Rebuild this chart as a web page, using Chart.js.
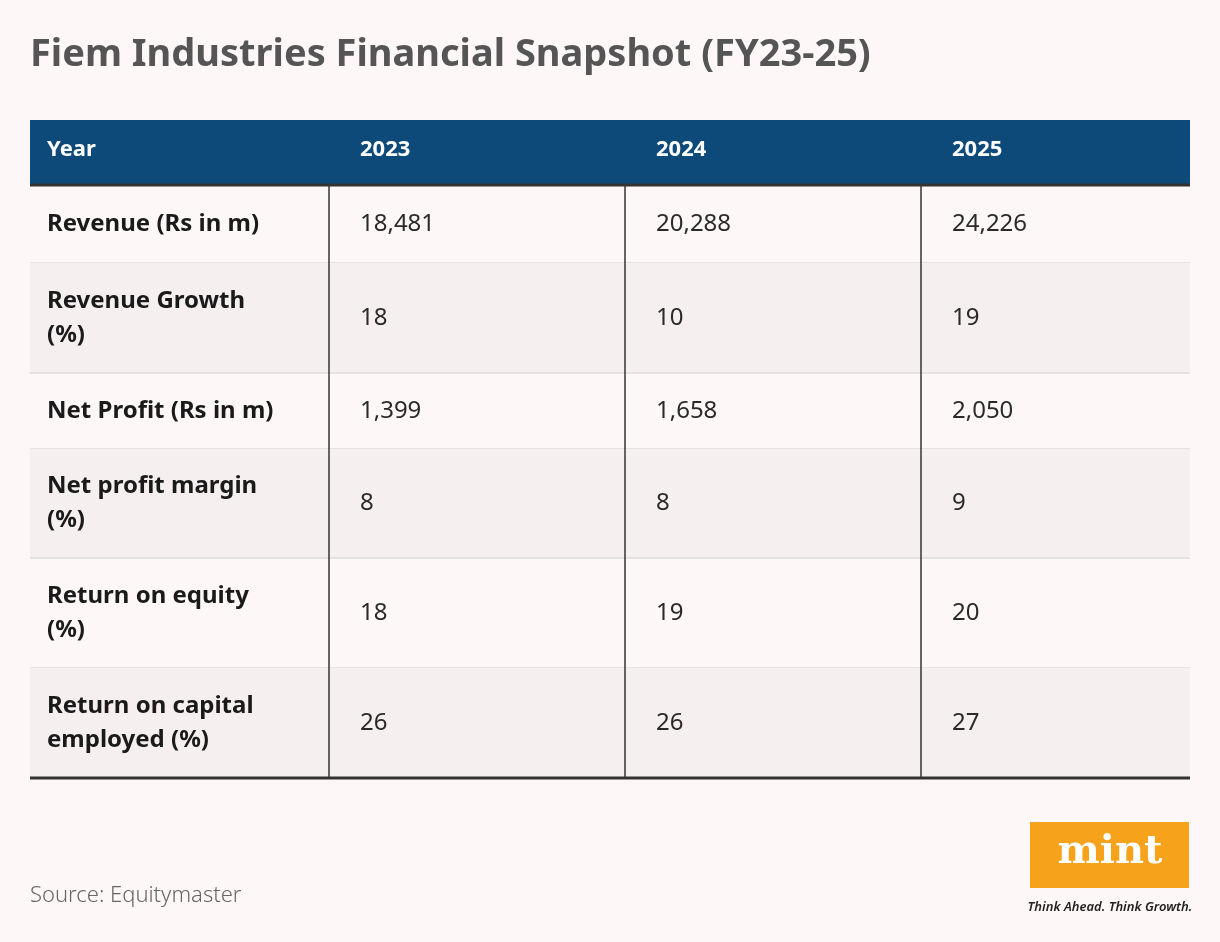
<!DOCTYPE html>
<html><head><meta charset="utf-8">
<script src="https://cdn.jsdelivr.net/npm/chart.js@4"></script>
<style>html,body{margin:0;padding:0;background:#fdf8f7;}#c{display:block;}</style>
</head><body>
<div style="width:1220px;height:942px;"><canvas id="c"></canvas></div>
<script>
const years = ["2023", "2024", "2025"];
const rowLabels = [
  ["Revenue (Rs in m)"],
  ["Revenue Growth", "(%)"],
  ["Net Profit (Rs in m)"],
  ["Net profit margin", "(%)"],
  ["Return on equity", "(%)"],
  ["Return on capital", "employed (%)"],
];
const revenue = ["18,481", "20,288", "24,226"];
const revenueGrowth = ["18", "10", "19"];
const netProfit = ["1,399", "1,658", "2,050"];
const netMargin = ["8", "8", "9"];
const roe = ["18", "19", "20"];
const roce = ["26", "26", "27"];
const rows = [revenue, revenueGrowth, netProfit, netMargin, roe, roce];

// layout (page pixels)
const colEdges = [30, 329, 625, 921, 1190];
const rowEdges = [120, 185, 263, 373, 449, 558, 668, 778];

const tablePlugin = {
  id: "table",
  beforeDraw(chart) {
    const ctx = chart.ctx, x = chart.scales.x, y = chart.scales.y;
    const X = v => x.getPixelForValue(v), Y = v => y.getPixelForValue(v);
    ctx.save();
    ctx.fillStyle = "#fdf8f7";
    ctx.fillRect(0, 0, chart.width, chart.height);
    // title
    ctx.fillStyle = "#555555";
    ctx.font = "bold 38px 'Noto Sans'";
    ctx.textBaseline = "middle";
    ctx.fillText("Fiem Industries Financial Snapshot (FY23-25)", X(30), Y(55));
    // header
    ctx.fillStyle = "#0d4a7a";
    ctx.fillRect(X(30), Y(120), X(1190) - X(30), Y(185) - Y(120));
    ctx.fillStyle = "#ffffff";
    ctx.font = "bold 22px 'Noto Sans'";
    ctx.fillText("Year", X(colEdges[0] + 17), Y(150));
    years.forEach((yr, i) => ctx.fillText(yr, X(colEdges[i + 1] + 31), Y(150)));
    // body rows
    rows.forEach((vals, r) => {
      const top = rowEdges[r + 1], bot = rowEdges[r + 2], mid = (top + bot) / 2;
      if (r % 2 === 1) {
        ctx.fillStyle = "#f5f0ef";
        ctx.fillRect(X(30), Y(top), X(1190) - X(30), Y(bot) - Y(top));
      }
      ctx.fillStyle = "#1a1a1a";
      ctx.font = "bold 24px 'Noto Sans'";
      const lines = rowLabels[r];
      lines.forEach((ln, k) => ctx.fillText(ln, X(47), Y(mid + (k - (lines.length - 1) / 2) * 34)));
      ctx.font = "24px 'Noto Sans'";
      ctx.fillStyle = "#2a2a2a";
      vals.forEach((v, i) => ctx.fillText(v, X(colEdges[i + 1] + 31), Y(mid)));
      if (r < rows.length - 1) {
        ctx.strokeStyle = "#dddddd"; ctx.lineWidth = 1.5;
        ctx.beginPath(); ctx.moveTo(X(30), Y(bot)); ctx.lineTo(X(1190), Y(bot)); ctx.stroke();
      }
    });
    // column dividers
    ctx.strokeStyle = "#333333"; ctx.lineWidth = 1.5;
    colEdges.slice(1, 4).forEach(c => {
      ctx.beginPath(); ctx.moveTo(X(c), Y(185)); ctx.lineTo(X(c), Y(778)); ctx.stroke();
    });
    ctx.lineWidth = 3;
    [185, 778].forEach(v => {
      ctx.beginPath(); ctx.moveTo(X(30), Y(v)); ctx.lineTo(X(1190), Y(v)); ctx.stroke();
    });
    // source
    ctx.fillStyle = "#666666";
    ctx.font = "300 22px 'Noto Sans'";
    ctx.fillText("Source: Equitymaster", X(30), Y(896));
    // logo
    ctx.fillStyle = "#f7a21b";
    ctx.fillRect(X(1030), Y(822), 159, 66);
    ctx.fillStyle = "#ffffff";
    ctx.font = "bold 40px 'DejaVu Serif'";
    ctx.textAlign = "center";
    ctx.fillText("mint", X(1110), Y(853));
    ctx.fillStyle = "#222222";
    ctx.font = "italic 600 13px 'Noto Sans'";
    ctx.fillText("Think Ahead. Think Growth.", X(1110), Y(907));
    ctx.restore();
  }
};

new Chart("c", {
  type: "scatter",
  data: { datasets: [{ data: [] }] },
  options: {
    responsive: true, maintainAspectRatio: false, animation: false,
    layout: { padding: 0 },
    plugins: { legend: { display: false }, tooltip: { enabled: false } },
    scales: {
      x: { type: "linear", min: 0, max: 1220, display: false },
      y: { type: "linear", min: 0, max: 942, reverse: true, display: false }
    }
  },
  plugins: [tablePlugin]
});
</script>
</body></html>
